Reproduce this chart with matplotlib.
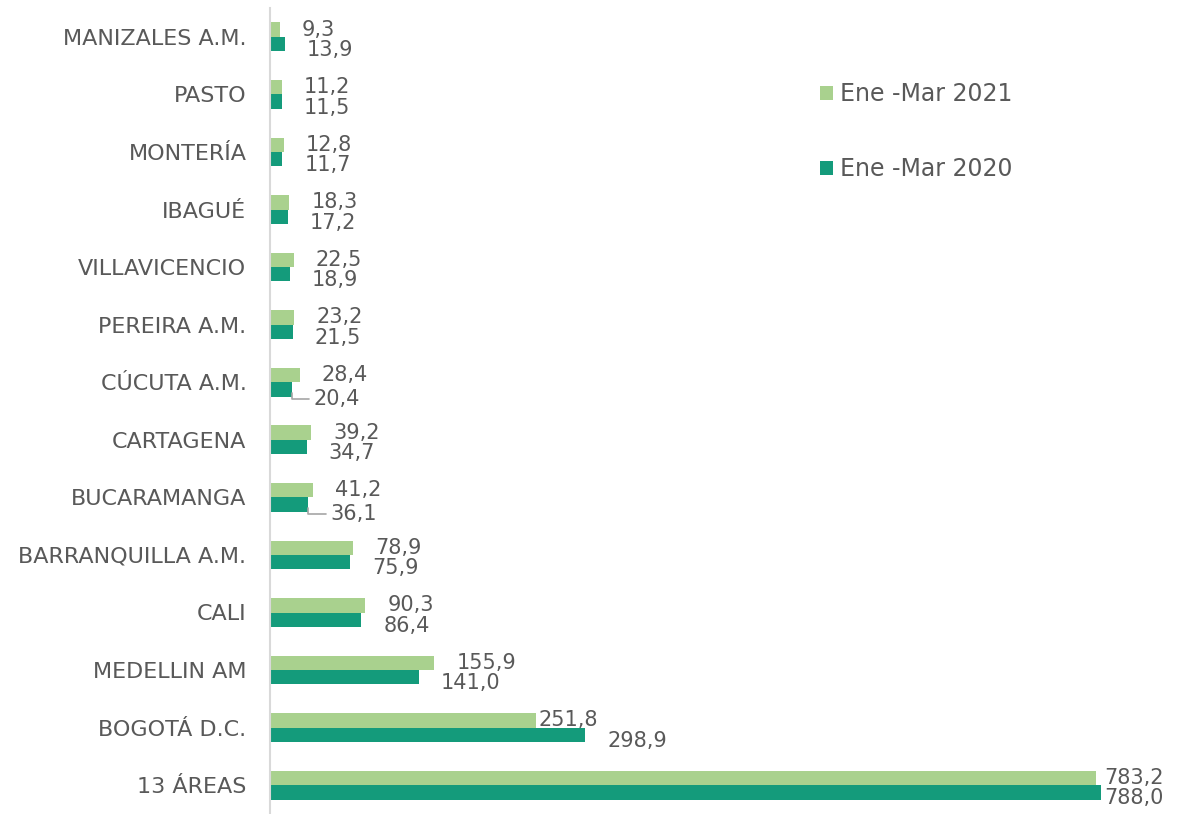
import matplotlib
matplotlib.use("Agg")
import matplotlib.pyplot as plt

# Data
categories = ["MANIZALES A.M.", "PASTO", "MONTERÍA", "IBAGUÉ", "VILLAVICENCIO",
              "PEREIRA A.M.", "CÚCUTA A.M.", "CARTAGENA", "BUCARAMANGA",
              "BARRANQUILLA A.M.", "CALI", "MEDELLIN AM", "BOGOTÁ D.C.", "13 ÁREAS"]
values_2021 = [9.3, 11.2, 12.8, 18.3, 22.5, 23.2, 28.4, 39.2, 41.2, 78.9, 90.3, 155.9, 251.8, 783.2]
values_2020 = [13.9, 11.5, 11.7, 17.2, 18.9, 21.5, 20.4, 34.7, 36.1, 75.9, 86.4, 141.0, 298.9, 788.0]
series_names = ["Ene -Mar 2021", "Ene -Mar 2020"]

LIGHT = "#A9D18E"
DARK = "#149B7B"
TEXT = "#595959"
FONT = "DejaVu Sans"

# label offsets in pixels (x) for each bar; most are ~22 px past the bar end
off_2021 = [22] * len(categories)
off_2020 = [22] * len(categories)
off_2021[12] = 3     # Bogotá label pulled in
off_2021[13] = 8     # 13 áreas
off_2020[13] = 3
leader_2020 = {6, 8}  # labels with a small leader line

fig = plt.figure(figsize=(11.94, 8.14), dpi=100)
ax = fig.add_axes([270 / 1194, 0.0, 1 - 270 / 1194, (814 - 8) / 814])

h = 0.25
y = list(range(len(categories)))
ax.barh([i - h / 2 for i in y], values_2021, height=h, color=LIGHT, label=series_names[0])
ax.barh([i + h / 2 for i in y], values_2020, height=h, color=DARK, label=series_names[1])

ax.set_ylim(13.5, -0.5)
ax.set_xlim(0, 876)
ax.set_yticks(y)
ax.set_yticklabels(categories, fontsize=16, color=TEXT, family=FONT)
ax.tick_params(axis="y", length=0, pad=17)
ax.set_xticks([])
for side in ["top", "right", "bottom"]:
    ax.spines[side].set_visible(False)
ax.spines["left"].set_color("#D9D9D9")
ax.spines["left"].set_linewidth(1.5)

def fmt(v):
    return f"{v:.1f}".replace(".", ",")

px = 72 / 100  # pixels to points
VS = 15
for i in y:
    ax.annotate(fmt(values_2021[i]), xy=(values_2021[i], i - h / 2),
                xytext=(off_2021[i] * px, 0), textcoords="offset points",
                ha="left", va="center", fontsize=VS, color=TEXT, family=FONT)
    if i in leader_2020:
        ax.annotate(fmt(values_2020[i]), xy=(values_2020[i], i + h * 0.75),
                    xytext=(off_2020[i] * px, -6 * px), textcoords="offset points",
                    ha="left", va="center", fontsize=VS, color=TEXT, family=FONT,
                    arrowprops=dict(arrowstyle="-", color="#A6A6A6", lw=1.2,
                                    shrinkA=1, shrinkB=0, relpos=(0, 0.5),
                                    connectionstyle="angle,angleA=0,angleB=90,rad=0"))
    else:
        ax.annotate(fmt(values_2020[i]), xy=(values_2020[i], i + h / 2),
                    xytext=(off_2020[i] * px, -6 * px), textcoords="offset points",
                    ha="left", va="center", fontsize=VS, color=TEXT, family=FONT)

leg = ax.legend(loc="upper left", bbox_to_anchor=(799 / 1194, 1 - 61 / 814),
                bbox_transform=fig.transFigure, frameon=False,
                prop={"family": FONT, "size": 17}, labelspacing=2.15,
                handlelength=0.55, handleheight=0.55, handletextpad=0.3)
for t in leg.get_texts():
    t.set_color(TEXT)

fig.savefig("out.png", dpi=100)
